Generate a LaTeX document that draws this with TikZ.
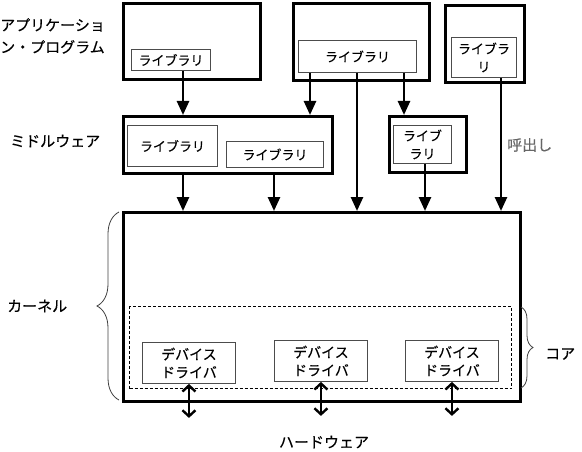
\documentclass[tikz,border=0pt]{standalone}
\usepackage{fontspec}
\setmainfont{Noto Sans CJK JP}[FakeBold=0.35]
\usetikzlibrary{arrows.meta,decorations.pathreplacing}
\begin{document}
\begin{tikzpicture}[line join=miter, x=1pt, y=-1pt, >={Triangle[length=14pt,width=12pt]},
sz/.style 2 args={minimum width=#1pt, minimum height=#2pt},
big/.style={draw, line width=2.6pt, anchor=north west, inner sep=0pt},
lib/.style={draw=black!70, line width=0.9pt, anchor=north west, inner sep=0pt, align=center, font=\fontsize{13}{18}\selectfont},
drv/.style={lib, font=\fontsize{14}{18}\selectfont},
lbl/.style={inner sep=0pt, font=\fontsize{15}{22}\selectfont},
arr/.style={->, line width=2.6pt},
dbl/.style={{Straight Barb[length=6pt,width=13pt]}-{Straight Barb[length=6pt,width=13pt]}, line width=2.4pt},
brc/.style={decorate, draw=black!75, line width=0.8pt}]
\useasboundingbox (0,0) rectangle (582,452);
\node[big, sz={137}{76}] (app1) at (122,2) {};
\node[lib, sz={79}{21}] (lib1) at (131,49) {ライブラリ};
\node[big, sz={136}{77}] (app2) at (292,2) {};
\node[lib, sz={118}{32}] (lib2) at (298,40) {ライブラリ};
\node[big, sz={79}{77}] (app3) at (444,4) {};
\node[lib, sz={65}{40}] (lib3) at (451,37) {ライブラ\\リ};
\node[big, sz={209}{57}] (mw) at (122,115) {};
\node[lib, sz={90}{41}] (mwlibA) at (127,125) {ライブラリ};
\node[lib, sz={97}{26}] (mwlibB) at (226,141) {ライブラリ};
\node[big, sz={77}{56}] (sm) at (388,115) {};
\node[lib, sz={58}{38}] (smlib) at (393,125) {ライブ\\ラリ};
\node[big, sz={397}{189}] (kern) at (122,211) {};
\node[draw, line width=1.2pt, dash pattern=on 3pt off 2pt, anchor=north west, inner sep=0pt, sz={382}{82}] (core) at (129,306) {};
\foreach \d/\x/\y [count=\i] in {drv1/142/342, drv2/274/340, drv3/405/340}{
\node[drv, sz={93}{41}] (\d) at (\x,\y) {デバイス\\ドライバ};
\draw[dbl] (\d.south) -- ++(0,34);
}
\foreach \x/\a/\b in {183/lib1/mw, 310/lib2/mw, 357/lib2/kern, 404/lib2/sm, 501/lib3/kern, 183/mw/kern, 274/mw/kern, 425/smlib/kern}
\draw[arr] (\a.south -| \x,0) -- (\b.north -| \x,0);
\draw[brc, decoration={brace, amplitude=22pt}] (119,400) -- (119,212);
\draw[brc, decoration={brace, amplitude=12pt}] (521,307) -- (521,388);
\node[lbl, anchor=west, align=left] (applbl) at (0,36) {アプリケーショ\\ン・プログラム};
\node[lbl, anchor=west] (mwlbl) at (10,141) {ミドルウェア};
\node[lbl, anchor=west] (krlbl) at (7,306) {カーネル};
\node[lbl] (hwlbl) at (324,442) {ハードウェア};
\node[lbl, anchor=west, text=black!60] (call) at (507,145) {呼出し};
\node[lbl, anchor=west] (corelbl) at (545,354) {コア};
\end{tikzpicture}
\end{document}
